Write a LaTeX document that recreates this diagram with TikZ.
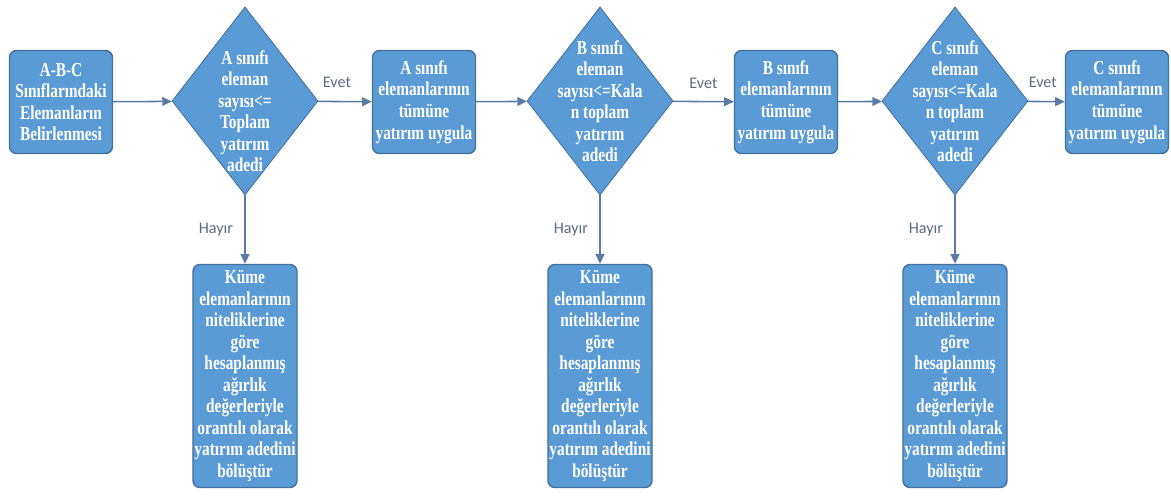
\documentclass[tikz,border=0pt]{standalone}
\usepackage{fontspec}
\usetikzlibrary{shapes.geometric,arrows.meta}
\newfontfamily\boxfont{Liberation Serif}[BoldFont={Liberation Serif Bold},FakeStretch=0.78]
\newfontfamily\lblfont{Carlito}
\definecolor{boxblue}{HTML}{5B9BD5}
\definecolor{edgeblue}{HTML}{41719C}
\definecolor{lineblue}{HTML}{5A7BA3}
\definecolor{lblgray}{HTML}{5B6B80}
\tikzset{
  every picture/.style={line width=0.5pt},
  stepbox/.style={draw=edgeblue,fill=boxblue,line width=1pt,rounded corners=5pt,
    minimum width=2.575cm,minimum height=2.575cm,inner sep=1pt},
  tallbox/.style={stepbox,minimum width=2.6cm,minimum height=5.575cm},
  decide/.style={shape=diamond,draw=edgeblue,fill=boxblue,line width=0.6pt,inner sep=0pt,
    minimum width=3.65cm,minimum height=4.7cm},
  txt/.style={text=white,align=center,inner sep=0pt,
    font=\boxfont\bfseries\fontsize{14}{15.3}\selectfont},
  line/.style={draw=lineblue,line width=1.1pt,-{Triangle[length=2.4mm,width=2.2mm]}},
  lbl/.style={text=lblgray,font=\lblfont\fontsize{11.5}{13}\selectfont,inner sep=0pt}
}
\begin{document}
\begin{tikzpicture}[x=0.025cm,y=-0.025cm]
\useasboundingbox (0,0) rectangle (1171,497);
% top row
\node[stepbox,txt] (s0) at (61,102) {A-B-C\\Sınıflarındaki\\Elemanların\\Belirlenmesi};
\node[decide] (d1) at (245,101) {};
\node[txt] (d1t) at (245,111) {A sınıfı\\eleman\\sayısı<=\\Toplam\\yatırım\\adedi};
\node[stepbox,txt] (a1) at (424,102) {A sınıfı\\elemanlarının\\tümüne\\yatırım uygula};
\node[decide] (d2) at (600,101) {};
\node[txt] (d2t) at (600,101) {B sınıfı\\eleman\\sayısı<=Kala\\n toplam\\yatırım\\adedi};
\node[stepbox,txt] (a2) at (786,102) {B sınıfı\\elemanlarının\\tümüne\\yatırım uygula};
\node[decide] (d3) at (955,101) {};
\node[txt] (d3t) at (955,101) {C sınıfı\\eleman\\sayısı<=Kala\\n toplam\\yatırım\\adedi};
\node[stepbox,txt] (a3) at (1117,102) {C sınıfı\\elemanlarının\\tümüne\\yatırım uygula};
% bottom row
\foreach \i/\cx in {1/245,2/600,3/955}{
  \node[tallbox,txt] (k\i) at (\cx,376) {Küme\\elemanlarının\\niteliklerine\\göre\\hesaplanmış\\ağırlık\\değerleriyle\\orantılı olarak\\yatırım adedini\\bölüştür};
}
% connectors
\draw[line] (s0) -- (d1);
\draw[line] (d1) -- node[lbl,above=9pt,pos=0.35] {Evet} (a1);
\draw[line] (a1) -- (d2);
\draw[line] (d2) -- node[lbl,above=9pt] {Evet} (a2);
\draw[line] (a2) -- (d3);
\draw[line] (d3) -- node[lbl,above=9pt,pos=0.4] {Evet} (a3);
\foreach \i in {1,2,3}{
  \draw[line] (d\i.south) -- node[lbl,left=8pt] {Hayır} (k\i.north);
}
\end{tikzpicture}
\end{document}
